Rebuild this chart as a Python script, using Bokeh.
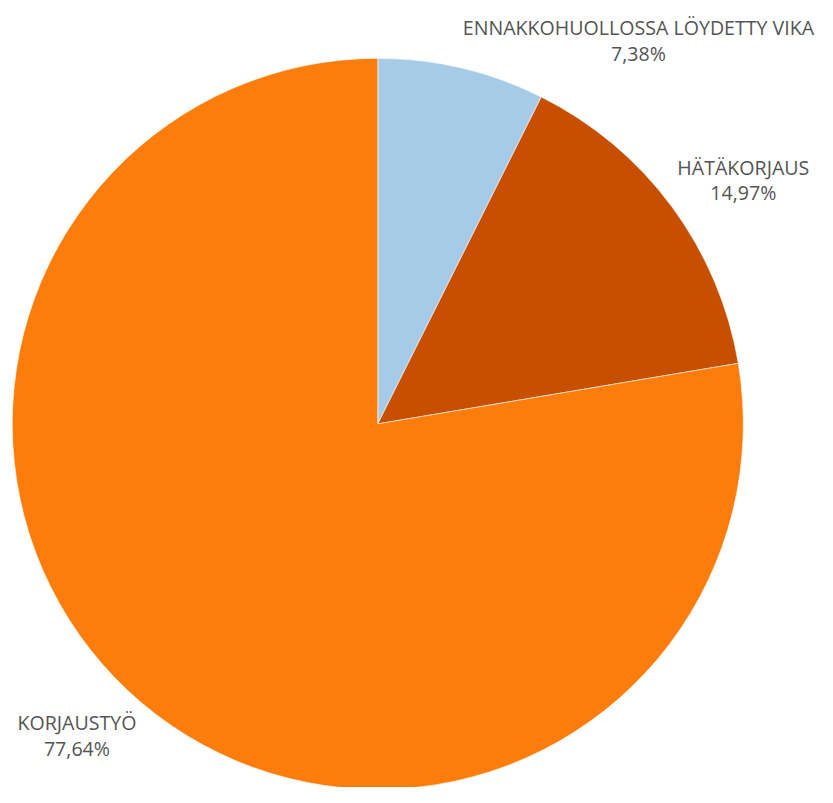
import math
from bokeh.plotting import figure
from bokeh.models import Range1d, ColumnDataSource
from bokeh.core.properties import value
from bokeh.embed import file_html
from bokeh.resources import INLINE

# ---- data ----
categories = ["ENNAKKOHUOLLOSSA LÖYDETTY VIKA", "HÄTÄKORJAUS", "KORJAUSTYÖ"]
shares = [7.38, 14.97, 77.64]
pct_labels = ["7,38%", "14,97%", "77,64%"]
colors = ["#a5cbe7", "#c75000", "#fc7d0b"]

# ---- layout (reference pixel geometry, scaled to fit) ----
W, H = 817, 787
S = 0.98
def X(px):
    return px * S
def Y(py):
    return H - py * S

CX, CY, R = X(385), Y(432), 373 * S
label_centers = [(651, 28), (758, 170), (78, 737)]  # first-line centres (ref px)
LINE_GAP = 26 * S
FONT = "%.1fpx" % (20 * S)

total = sum(shares)
starts, ends = [], []
cum = 0.0
for s in shares:
    a0 = math.pi / 2 - 2 * math.pi * cum / total
    cum += s
    a1 = math.pi / 2 - 2 * math.pi * cum / total
    starts.append(a0)
    ends.append(a1)

src = ColumnDataSource(dict(cat=categories, start=starts, end=ends, color=colors,
                            x=[CX] * 3, y=[CY] * 3))

p = figure(width=W, height=H, output_backend="svg", toolbar_location=None,
           x_range=Range1d(0, W), y_range=Range1d(0, H), min_border=0,
           outline_line_color=None, background_fill_color="white")
p.axis.visible = False
p.grid.visible = False

p.wedge(x="x", y="y", radius=R, start_angle="start", end_angle="end",
        direction="clock", fill_color="color", line_color="white",
        line_width=0.6, source=src)

lx = [X(c[0]) for c in label_centers]
ly1 = [Y(c[1]) for c in label_centers]
ly2 = [Y(c[1]) - LINE_GAP for c in label_centers]
p.text(x=lx, y=ly1, text=categories, text_align="center", text_baseline="middle",
       text_font=value("Open Sans"), text_font_size=FONT, text_color="#555555")
p.text(x=lx, y=ly2, text=pct_labels, text_align="center", text_baseline="middle",
       text_font=value("Open Sans"), text_font_size=FONT, text_color="#555555")

open("out.html", "w").write(file_html(p, INLINE))
